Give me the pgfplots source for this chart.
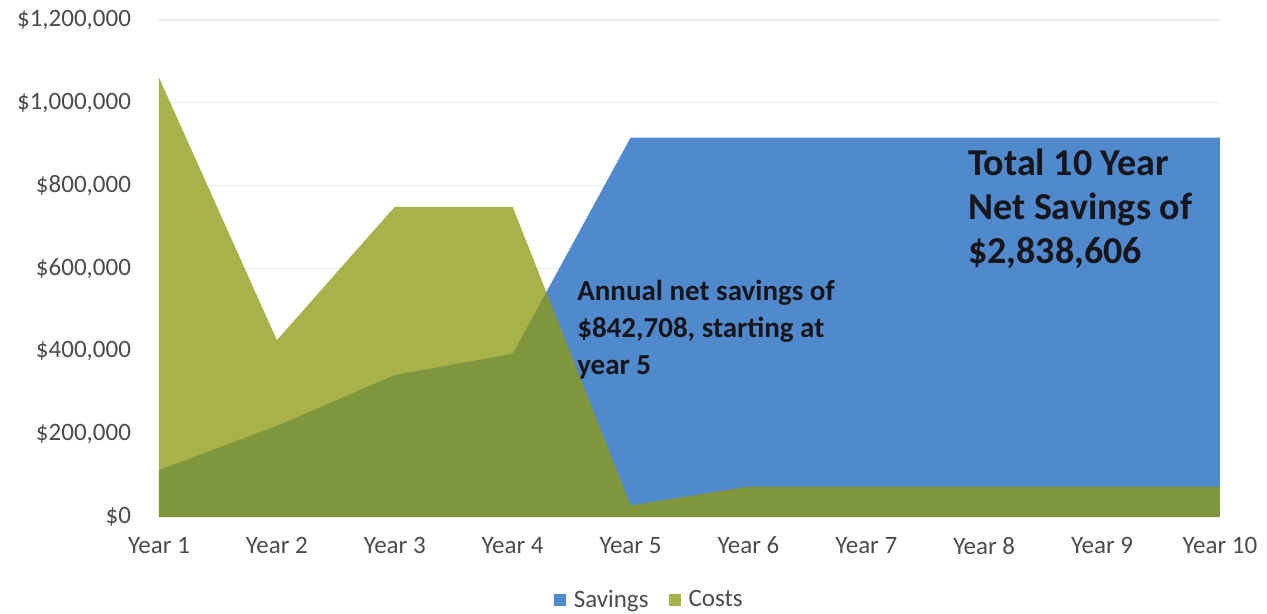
\documentclass[border=0pt]{standalone}
\usepackage{fontspec}
\setmainfont{Carlito}
\usepackage{pgfplots}
\pgfplotsset{compat=1.18}

\definecolor{savblue}{RGB}{80,137,204}
\definecolor{costolive}{RGB}{142,155,19}
\definecolor{ticktext}{RGB}{75,75,75}
\definecolor{notetext}{RGB}{22,22,28}

\begin{document}
\begin{tikzpicture}
\path[use as bounding box] (-79.5pt,-48.5pt) rectangle (554pt,258.5pt);
\begin{axis}[
  scale only axis,
  width=530.5pt, height=248.5pt,
  xmin=1, xmax=10, ymin=0, ymax=1200000,
  scaled y ticks=false,
  axis line style={draw=none},
  tick style={draw=none},
  ymajorgrids,
  grid style={color=black!8, line width=0.6pt},
  xtick={1,...,10},
  xticklabels={Year 1,Year 2,Year 3,Year 4,Year 5,Year 6,Year 7,Year 8,Year 9,Year 10},
  ytick={0,200000,400000,600000,800000,1000000,1200000},
  yticklabels={\$0,{\$200,000},{\$400,000},{\$600,000},{\$800,000},{\$1,000,000},{\$1,200,000}},
  ticklabel style={font=\fontsize{12.5}{14}\selectfont, text=ticktext},
  yticklabel style={xshift=-10.5pt},
  xticklabel style={yshift=-6.5pt},
  legend style={at={(0.463,0)}, anchor=center, yshift=-41.5pt, draw=none, fill=none,
    legend columns=2, font=\fontsize{12.5}{14}\selectfont, text=ticktext,
    /tikz/every odd column/.append style={column sep=2pt},
    /tikz/every even column/.append style={column sep=8pt}},
  legend image code/.code={\fill[#1] (0pt,-3pt) rectangle (6pt,3pt);},
]
% Savings
\addplot[draw=none, fill=savblue] coordinates {
  (1,113000) (2,220000) (3,343000) (4,394000) (5,916000)
  (6,916000) (7,916000) (8,916000) (9,916000) (10,916000)
} \closedcycle;
% Costs
\addplot[draw=none, fill=costolive, fill opacity=0.77] coordinates {
  (1,1061000) (2,427000) (3,749000) (4,749000) (5,28000)
  (6,73300) (7,73300) (8,73300) (9,73300) (10,73300)
} \closedcycle;
\legend{Savings,Costs}

\node[anchor=north west, inner sep=0pt, align=left, text=notetext,
  font=\bfseries\fontsize{14.5}{18.5}\selectfont]
  at (axis cs:4.545,572000) {Annual net savings of\\\$842,708, starting at\\year 5};
\node[anchor=north west, inner sep=0pt, align=left, text=notetext,
  font=\bfseries\fontsize{19}{22}\selectfont]
  at (axis cs:7.862,891000) {Total 10 Year\\Net Savings of\\\$2,838,606};
\end{axis}
\end{tikzpicture}
\end{document}
